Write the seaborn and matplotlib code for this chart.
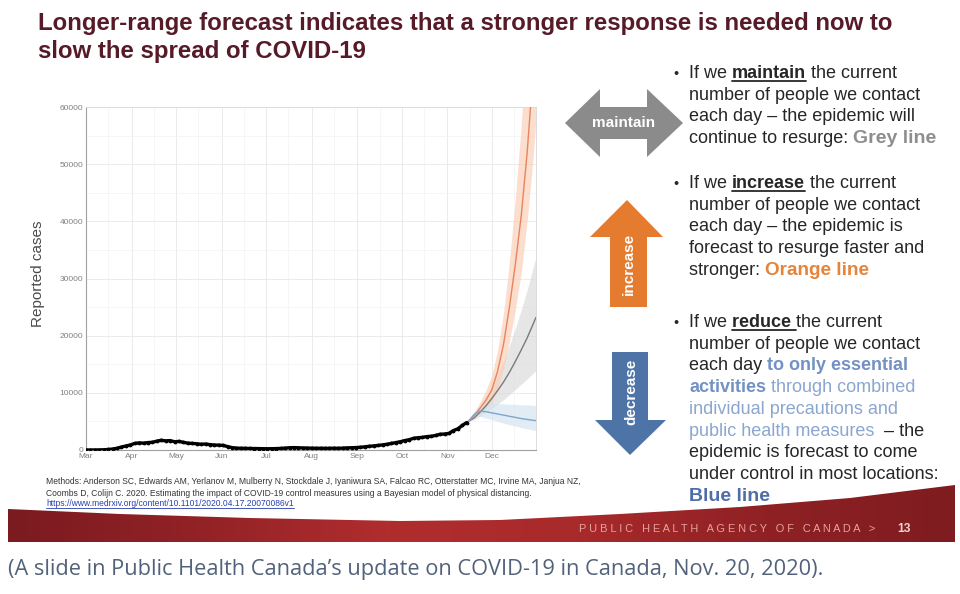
import numpy as np
import pandas as pd
import matplotlib
matplotlib.use("Agg")
import matplotlib.pyplot as plt
import matplotlib.dates as mdates
from matplotlib.patches import Polygon
from matplotlib.lines import Line2D
from matplotlib.colors import LinearSegmentedColormap
import seaborn as sns

# observed reported cases, one value every 3rd day from 1 March 2020
obs_start = "2020-03-01"
obs_cases = [
    5, 8, 12, 20, 45, 90, 170, 300, 520, 700,
    880, 1150, 1250, 1200, 1300, 1350, 1550, 1700, 1600, 1650,
    1450, 1500, 1350, 1200, 1150, 1100, 1000, 1050, 950, 870,
    850, 800, 600, 420, 330, 300, 290, 270, 260, 250,
    230, 220, 230, 250, 280, 330, 400, 420, 390, 360,
    340, 320, 300, 310, 290, 300, 320, 300, 330, 370,
    400, 430, 480, 560, 650, 720, 800, 900, 1000, 1150,
    1300, 1450, 1650, 1800, 2050, 2150, 2200, 2350, 2400, 2550,
    2750, 2800, 2900, 3400, 3700, 4300, 4800,
]

# forecast scenarios (median and band)
fc_dates = ["2020-11-15", "2020-11-19", "2020-11-23", "2020-11-27", "2020-12-01",
            "2020-12-05", "2020-12-09", "2020-12-13", "2020-12-17", "2020-12-21",
            "2020-12-25", "2020-12-29", "2020-12-31"]
grey_mid = [5000, 5600, 6600, 7700, 9000, 10400, 11900, 13600, 15500, 17500, 19600, 22000, 23200]
grey_lo = [5000, 5300, 5900, 6600, 7300, 8000, 8800, 9700, 10600, 11500, 12400, 13400, 13900]
grey_hi = [5000, 6000, 7400, 9000, 11000, 13200, 15600, 18300, 21300, 24500, 28000, 31800, 33800]
orange_mid = [5000, 6000, 7300, 8700, 10500, 13800, 18500, 25000, 32500, 41000, 52000, 66000, 74000]
orange_lo = [5000, 5500, 6300, 7200, 8400, 10700, 14200, 19000, 24500, 31000, 40000, 51000, 58000]
orange_hi = [5000, 6600, 8400, 10400, 13000, 17500, 24000, 33000, 44000, 57000, 73000, 90000, 100000]
blue_mid = [5000, 6200, 6800, 6700, 6500, 6300, 6100, 5900, 5700, 5500, 5350, 5200, 5150]
blue_lo = [5000, 5800, 5900, 5600, 5300, 5000, 4700, 4400, 4200, 3900, 3700, 3500, 3400]
blue_hi = [5000, 6700, 7700, 8000, 8100, 8100, 8100, 8000, 8000, 7900, 7900, 7800, 7800]

month_fmt = "%b"
y_ticks = [0, 10000, 20000, 30000, 40000, 50000, 60000]

W, H = 960, 594
TXT = "#262626"


def fx(x):
    return x / W


def fy(y):
    return 1 - y / H


sns.set_style("white")
plt.rcParams["font.family"] = ["Liberation Sans", "DejaVu Sans"]

fig = plt.figure(figsize=(W / 100, H / 100), dpi=100)
rend = fig.canvas.get_renderer()


def text_width(s, **kw):
    t = fig.text(0, 0, s + "|", **kw)
    w1 = t.get_window_extent(renderer=rend).width
    t.set_text("|")
    w2 = t.get_window_extent(renderer=rend).width
    t.remove()
    return w1 - w2


def fit_size(s, width, size, **kw):
    return size * width / text_width(s, fontsize=size, **kw)


# ---------------- chart ----------------
ax = fig.add_axes([fx(86), fy(450), fx(536) - fx(86), (450 - 107) / H])

obs = pd.DataFrame({"date": pd.date_range(obs_start, periods=len(obs_cases), freq="3D"),
                    "cases": obs_cases})
dates = pd.to_datetime(fc_dates)
fc = pd.concat([
    pd.DataFrame({"date": dates, "scenario": "maintain", "mid": grey_mid, "lo": grey_lo, "hi": grey_hi}),
    pd.DataFrame({"date": dates, "scenario": "increase", "mid": orange_mid, "lo": orange_lo, "hi": orange_hi}),
    pd.DataFrame({"date": dates, "scenario": "decrease", "mid": blue_mid, "lo": blue_lo, "hi": blue_hi}),
])
band_cols = {"maintain": "#dadada", "increase": "#fbcdb6", "decrease": "#d3e3f1"}
line_cols = {"maintain": "#7a7a7a", "increase": "#e8845c", "decrease": "#7ea6cc"}

for scen, g in fc.groupby("scenario", sort=False):
    ax.fill_between(g["date"], g["lo"], g["hi"], color=band_cols[scen], alpha=0.65, lw=0, zorder=2)
sns.lineplot(data=fc, x="date", y="mid", hue="scenario", palette=line_cols,
             lw=1.0, legend=False, ax=ax, zorder=3)
sns.lineplot(data=obs, x="date", y="cases", color="black", lw=2.4, marker="o",
             ms=2, mec="black", ax=ax, zorder=4)

ax.set_xlim(pd.Timestamp("2020-03-01"), pd.Timestamp("2020-12-31"))
ax.set_ylim(0, 60000)
ax.set_yticks(y_ticks)
ax.yaxis.set_minor_locator(matplotlib.ticker.MultipleLocator(5000))
ax.xaxis.set_major_locator(mdates.MonthLocator())
ax.xaxis.set_minor_locator(mdates.MonthLocator(bymonthday=16))
ax.xaxis.set_major_formatter(mdates.DateFormatter(month_fmt))
ax.grid(True, which="major", color="#e8e8e8", lw=0.6)
ax.grid(True, which="minor", color="#f3f3f3", lw=0.5)
ax.set_axisbelow(True)
ax.tick_params(which="both", length=0, labelsize=6, labelcolor="#808080", pad=2)
ax.set_xlabel("")
ax.set_ylabel("Reported cases", fontsize=11, color="#4a4a4a")
ax.yaxis.set_label_coords(-0.092, 0.515)
for side in ["left", "bottom"]:
    ax.spines[side].set_color("#a0a0a0")
    ax.spines[side].set_linewidth(0.8)
for side in ["top", "right"]:
    ax.spines[side].set_color("#dcdcdc")
    ax.spines[side].set_linewidth(0.7)

# ---------------- title ----------------
title_kw = dict(fontweight="bold", color="#561a28")
tsize = fit_size("Longer-range forecast indicates that a stronger response is needed now to", 855, 16, **title_kw)
fig.text(fx(38), fy(30), "Longer-range forecast indicates that a stronger response is needed now to",
         fontsize=tsize, va="baseline", **title_kw)
fig.text(fx(38), fy(58), "slow the spread of COVID-19", fontsize=tsize, va="baseline", **title_kw)

# ---------------- arrows ----------------
def shape(pts, color):
    fig.add_artist(Polygon([(fx(x), fy(y)) for x, y in pts], closed=True,
                           transform=fig.transFigure, facecolor=color, edgecolor="none"))


shape([(565, 123), (600, 89), (600, 107), (647, 107), (647, 89), (683, 123),
       (647, 157), (647, 139), (600, 139), (600, 157)], "#8b8b8b")
shape([(627, 200), (663, 237), (647, 237), (647, 307), (610, 307), (610, 237), (590, 237)], "#e47b2e")
shape([(612, 352), (648, 352), (648, 420), (666, 420), (630, 455), (595, 420), (612, 420)], "#4e73a7")
arrow_kw = dict(color="white", fontweight="bold", ha="center", va="center", fontsize=11)
fig.text(fx(624), fy(123), "maintain", **arrow_kw)
fig.text(fx(629), fy(264), "increase", rotation=90, **arrow_kw)
fig.text(fx(631), fy(392), "decrease", rotation=90, **arrow_kw)

# ---------------- bullet text ----------------
base = fit_size("number of people we contact", 231, 13)
GREY = {"weight": "bold", "color": "#8e8e8e", "scale": 1.08}
ORANGE = {"weight": "bold", "color": "#e5843b", "scale": 1.05}
BLUE1 = {"weight": "bold", "color": "#7391c4"}
BLUE2 = {"color": "#8ba6d0"}
BLUE3 = {"weight": "bold", "color": "#4d6ea8", "scale": 1.08}


def rich_line(x, y, parts):
    for s, st in parts:
        kw = dict(fontsize=base * st.get("scale", 1), fontweight=st.get("weight", "normal"),
                  color=st.get("color", TXT))
        fig.text(fx(x), fy(y), s, va="baseline", ha="left", **kw)
        w = text_width(s, **kw)
        if st.get("ul"):
            fig.add_artist(Line2D([fx(x), fx(x + w)], [fy(y + 2.6)] * 2, color=kw["color"], lw=1.3))
        x += w


bullets = [
    (78, [[("If we ", {}), ("maintain", {"weight": "bold", "ul": True}), (" the current", {})],
          [("number of people we contact", {})],
          [("each day \u2013 the epidemic will", {})],
          [("continue to resurge: ", {}), ("Grey line", GREY)]]),
    (188, [[("If we ", {}), ("increase", {"weight": "bold", "ul": True}), (" the current", {})],
           [("number of people we contact", {})],
           [("each day \u2013 the epidemic is", {})],
           [("forecast to resurge faster and", {})],
           [("stronger: ", {}), ("Orange line", ORANGE)]]),
    (327, [[("If we ", {}), ("reduce ", {"weight": "bold", "ul": True}), ("the current", {})],
           [("number of people we contact", {})],
           [("each day ", {}), ("to only essential", BLUE1)],
           [("activities", BLUE1), (" through combined", BLUE2)],
           [("individual precautions and", BLUE2)],
           [("public health measures", BLUE2), ("  \u2013 the", {})],
           [("epidemic is forecast to come", {})],
           [("under control in most locations:", {})],
           [("Blue line", BLUE3)]]),
]
for y0, lines in bullets:
    fig.text(fx(673), fy(y0), "\u2022", fontsize=base * 0.8, color=TXT, va="baseline")
    for i, parts in enumerate(lines):
        rich_line(689, y0 + i * 21.7, parts)

# ---------------- methods footnote ----------------
m1 = ("Methods: Anderson SC, Edwards AM, Yerlanov M, Mulberry N, Stockdale J, Iyaniwura SA, "
      "Falcao RC, Otterstatter MC, Irvine MA, Janjua NZ,")
m2 = ("Coombs D, Colijn C. 2020. Estimating the impact of COVID-19 control measures using a "
      "Bayesian model of physical distancing.")
m3 = "https://www.medrxiv.org/content/10.1101/2020.04.17.20070086v1"
msize = fit_size(m1, 537, 6)
fig.text(fx(46), fy(484), m1, fontsize=msize, color="#333333", va="baseline")
fig.text(fx(46), fy(495.5), m2, fontsize=msize, color="#333333", va="baseline")
fig.text(fx(46), fy(506.5), m3, fontsize=msize, color="#2a3fb0", va="baseline")
w3 = text_width(m3, fontsize=msize)
fig.add_artist(Line2D([fx(46), fx(46 + w3)], [fy(508)] * 2, color="#2a3fb0", lw=0.6))

# ---------------- red footer band ----------------
band_top = [(8, 509), (120, 514), (250, 518), (400, 521), (500, 520), (620, 514),
            (740, 507), (850, 498), (955, 485)]
bax = fig.add_axes([fx(8), fy(542), fx(955) - fx(8), (542 - 485) / H])
bax.set_xlim(8, 955)
bax.set_ylim(542, 485)
bax.axis("off")
red_cmap = LinearSegmentedColormap.from_list(
    "band", ["#7a1b20", "#922226", "#b02d2e", "#a92a2b", "#8f2124", "#7e1c20"])
grad = np.linspace(0, 1, 256)[None, :]
im = bax.imshow(grad, cmap=red_cmap, aspect="auto", extent=[8, 955, 542, 485])
clip = Polygon(band_top + [(955, 542), (8, 542)], closed=True, transform=bax.transData,
               facecolor="none", edgecolor="none")
bax.add_patch(clip)
im.set_clip_path(clip)

agency = "P U B L I C   H E A L T H   A G E N C Y   O F   C A N A D A   >"
asize = fit_size(agency, 300, 7)
fig.text(fx(579), fy(532), agency, fontsize=asize, color="#e6a1a1", va="baseline")
fig.text(fx(897), fy(532), "13", fontsize=asize * 1.1, fontweight="bold", color="#f1d2d2", va="baseline")

# ---------------- caption ----------------
cap = "(A slide in Public Health Canada\u2019s update on COVID-19 in Canada, Nov. 20, 2020)."
cap_kw = dict(family=["Open Sans", "DejaVu Sans"], color="#52627a")
csize = fit_size(cap, 810, 13, **cap_kw)
fig.text(fx(8), fy(575), cap, fontsize=csize, va="baseline", **cap_kw)

fig.savefig("out.png", dpi=100)
